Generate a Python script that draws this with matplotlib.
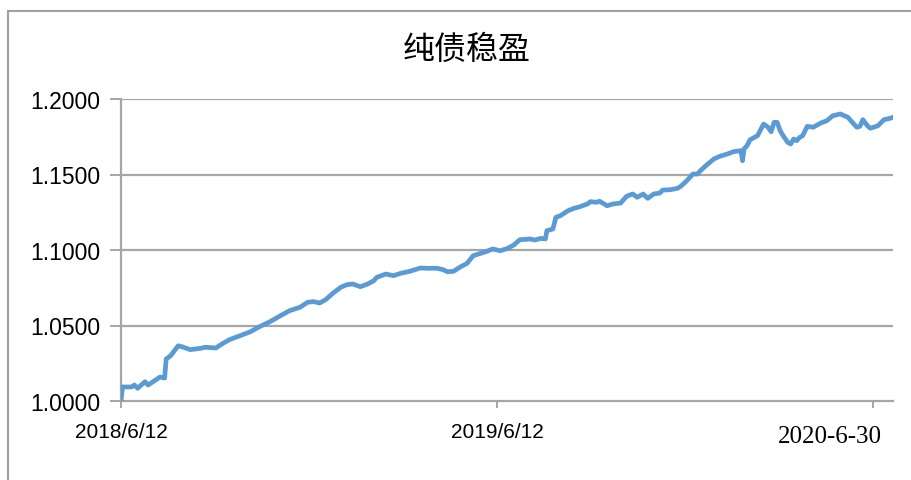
import matplotlib
matplotlib.use("Agg")
import matplotlib.pyplot as plt
from matplotlib.lines import Line2D

# ---- data (trading-day index, net value) ----
day_index = [0, 1, 7, 9, 11, 16, 18, 23, 26, 29, 30, 33, 38, 41, 46, 49, 53, 56, 63, 67,
             72, 79, 86, 92, 99, 106, 112, 119, 124, 128, 132, 136, 141, 146, 150, 154, 159,
             164, 168, 170, 176, 181, 186, 192, 199, 203, 210, 214, 217, 221, 225, 230, 234,
             239, 243, 247, 252, 257, 261, 265, 272, 275, 279, 282, 283, 287, 289, 292, 297,
             301, 305, 310, 312, 316, 318, 323, 327, 332, 336, 340, 343, 347, 350, 354, 358,
             360, 365, 370, 372, 376, 380, 383, 385, 390, 394, 398, 403, 407, 412, 413, 414,
             416, 418, 423, 427, 430, 432, 434, 436, 438, 440, 443, 445, 447, 449, 451, 453,
             456, 460, 465, 469, 473, 478, 483, 487, 489, 491, 493, 496, 498, 503, 507, 511, 513]
net_value = [1.0000, 1.0093, 1.0093, 1.0106, 1.0084, 1.0128, 1.0106, 1.0139, 1.0159, 1.0152,
             1.0278, 1.0300, 1.0366, 1.0358, 1.0340, 1.0344, 1.0349, 1.0356, 1.0351, 1.0377,
             1.0406, 1.0432, 1.0459, 1.0492, 1.0525, 1.0565, 1.0598, 1.0621, 1.0654, 1.0658,
             1.0649, 1.0671, 1.0715, 1.0753, 1.0770, 1.0775, 1.0757, 1.0775, 1.0797, 1.0819,
             1.0841, 1.0830, 1.0846, 1.0859, 1.0881, 1.0879, 1.0879, 1.0870, 1.0856, 1.0859,
             1.0885, 1.0912, 1.0962, 1.0978, 1.0991, 1.1007, 1.0995, 1.1011, 1.1033, 1.1068,
             1.1073, 1.1066, 1.1077, 1.1073, 1.1128, 1.1139, 1.1217, 1.1227, 1.1260, 1.1276,
             1.1287, 1.1305, 1.1320, 1.1316, 1.1323, 1.1293, 1.1305, 1.1311, 1.1356, 1.1371,
             1.1349, 1.1371, 1.1342, 1.1371, 1.1377, 1.1397, 1.1399, 1.1409, 1.1422, 1.1459,
             1.1503, 1.1503, 1.1525, 1.1570, 1.1603, 1.1621, 1.1636, 1.1651, 1.1658, 1.1591,
             1.1669, 1.1691, 1.1730, 1.1757, 1.1834, 1.1813, 1.1783, 1.1846, 1.1846, 1.1790,
             1.1757, 1.1713, 1.1702, 1.1735, 1.1724, 1.1746, 1.1757, 1.1819, 1.1813, 1.1841,
             1.1856, 1.1889, 1.1901, 1.1879, 1.1834, 1.1813, 1.1819, 1.1863, 1.1823, 1.1806,
             1.1823, 1.1863, 1.1872, 1.1879]

title_text = "纯债稳盈"
x_tick_pos = [0, 250, 500]
x_tick_labels = ["2018/6/12", "2019/6/12", ""]
end_label = "2020-6-30"
y_ticks = [1.00, 1.05, 1.10, 1.15, 1.20]

plt.rcParams['font.family'] = ['Liberation Sans', 'Noto Sans CJK SC', 'DejaVu Sans']

W, H = 912, 481
fig = plt.figure(figsize=(W / 100, H / 100), dpi=100)
ax = fig.add_axes([121 / W, 1 - 402 / H, (893 - 121) / W, (402 - 100) / H])

grid_c = '#a6a6a6'
for yv in y_ticks[1:]:
    ax.axhline(yv, color=grid_c, lw=1.6, zorder=1)

ax.plot(day_index, net_value, color='#5b9bd5', lw=3.4, solid_joinstyle='round', zorder=3)

ax.set_xlim(0, 513)
ax.set_ylim(1.0, 1.2)
ax.set_yticks(y_ticks)
ax.set_yticklabels([f"{v:.4f}" for v in y_ticks], fontsize=16.5)
ax.set_xticks(x_tick_pos)
ax.set_xticklabels(x_tick_labels, fontsize=15, family=['Liberation Sans', 'DejaVu Sans'])

for s in ['top', 'right']:
    ax.spines[s].set_visible(False)
for s in ['left', 'bottom']:
    ax.spines[s].set_color(grid_c)
    ax.spines[s].set_linewidth(1.6)
ax.tick_params(axis='y', length=8, width=1.4, color=grid_c, pad=7)
ax.tick_params(axis='x', length=5, width=1.4, color=grid_c, pad=10)

fig.text(467 / W, 1 - 50 / H, title_text, ha='center', va='center', fontsize=23,
         family=['Noto Sans CJK SC', 'DejaVu Sans'])
fig.text(882 / W, 1 - 437 / H, end_label, ha='right', va='center', fontsize=18,
         family=['Liberation Serif', 'DejaVu Serif'])

# chart-area border (left and top edges visible)
fig.add_artist(Line2D([8 / W, 8 / W], [0, 1 - 12 / H], transform=fig.transFigure,
                      color='#a0a0a0', lw=1.5))
fig.add_artist(Line2D([8 / W, 1], [1 - 12 / H, 1 - 12 / H], transform=fig.transFigure,
                      color='#a0a0a0', lw=1.5))

fig.savefig("out.png", dpi=100)
